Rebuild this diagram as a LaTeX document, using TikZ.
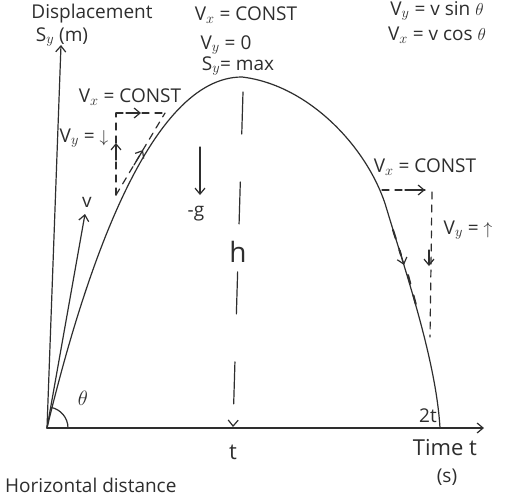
\documentclass[tikz,border=0pt]{standalone}
\usepackage{fontspec}
\setmainfont{Open Sans}
\usetikzlibrary{arrows.meta}
\begin{document}
\begin{tikzpicture}[x=1pt,y=-1pt,
  ink/.style={draw=black!82, line width=1.2pt, line cap=round, line join=round},
  dashink/.style={ink, dash pattern=on 7pt off 6pt},
  barb/.style={-{Straight Barb[length=6pt,width=10pt]}},
  lbl/.style={font=\fontsize{19}{19}\selectfont, text=black!82, inner sep=0pt},
  midlbl/.style={font=\fontsize{22}{22}\selectfont, text=black!82, inner sep=0pt},
  biglbl/.style={font=\fontsize{28}{28}\selectfont, text=black!82, inner sep=0pt}
]
\useasboundingbox (0,0) rectangle (517,496);
\clip (0,0) rectangle (517,496);
\fill[white] (0,0) rectangle (517,496);

% axes
\coordinate (O) at (47,428);
\coordinate (ytop) at (61,45);
\coordinate (xend) at (484,428);
\draw[ink, barb] (O) -- (ytop);
\draw[ink, barb] (O) -- (xend);

% trajectory
\coordinate (peak) at (242,77);
\coordinate (land) at (440,428);
\draw[ink] (O) .. controls (85,270) and (150,77) .. (peak)
  .. controls (310,85) and (370,150) .. (387,210)
  .. controls (405,270) and (436,360) .. (land);

% initial velocity and angle
\coordinate (vtip) at (85,214);
\draw[ink, barb] (O) -- (vtip);
\node[lbl] (vlab) at (87,202) {v};
\draw[ink] ([xshift=21pt]O) arc[start angle=0, end angle=80, radius=21pt];
\node[midlbl] (thlab) at (83,398) {$\theta$};

% max height line
\coordinate (htop) at (243,92);
\coordinate (hbot) at (233,427);
\draw[ink, dash pattern=on 42pt off 48pt, barb] (htop) -- (hbot);
\node[biglbl] (hlab) at (238,252) {h};

% gravity
\coordinate (gtop) at (200,147);
\coordinate (gbot) at (200,195);
\draw[ink, barb] (gtop) -- (gbot);
\node[lbl] (glab) at (196,214) {-g};

% left velocity components
\coordinate (LA) at (116,113);
\coordinate (LB) at (165,113);
\coordinate (LC) at (116,195);
\draw[dashink] (LA) -- (LB);
\draw[ink, barb] (126,113) -- (141,113);
\draw[dashink] (LC) -- (LA);
\draw[ink, barb] (116,160) -- (116,143);
\draw[dashink] (LC) -- (LB);
\draw[ink, barb] (134,165) -- (143,150);
\node[lbl] (lvx) at (130,97) {V$_x$ = CONST};
\node[lbl] (lvy) at (84,138) {V$_y$ = $\downarrow$};

% right velocity components
\coordinate (RA) at (382,190);
\coordinate (RB) at (425,190);
\coordinate (RC) at (430,337);
\draw[dashink] (RA) -- (RB);
\draw[ink, barb] (405,190) -- (425,190);
\draw[dashink] (432,192) -- (RC);
\draw[ink, barb] (429,250) -- (429,266);
\draw[ink, line width=2pt, dash pattern=on 9pt off 12pt] (393,230) -- (401,255) (408,275) -- (416,305);
\draw[ink, barb] (399,248) -- (404,265);
\node[lbl] (rvx) at (425,167) {V$_x$ = CONST};
\node[lbl] (rvy) at (468,230) {V$_y$ = $\uparrow$};

% top labels
\node[lbl] (disp) at (92,14) {Displacement};
\node[lbl] (tvx) at (246,15) {V$_x$ = CONST};
\node[lbl] (sy) at (62,37) {S$_y$ (m)};
\node[lbl] (tvy) at (226,45) {V$_y$ = 0};
\node[lbl] (smax) at (238,66) {S$_y$= max};
\node[lbl] (vsin) at (437,11) {V$_y$ = v sin $\theta$};
\node[lbl] (vcos) at (437,35) {V$_x$ = v cos $\theta$};

% time axis labels
\node[midlbl] (tlab) at (233,452) {t};
\node[lbl] (ttlab) at (428,416) {2t};
\node[midlbl] (time) at (445,448) {Time t};
\node[lbl] (sec) at (447,477) {(s)};

% bottom
\node[lbl, anchor=west] (hdist) at (5,485) {Horizontal distance};
\end{tikzpicture}
\end{document}
